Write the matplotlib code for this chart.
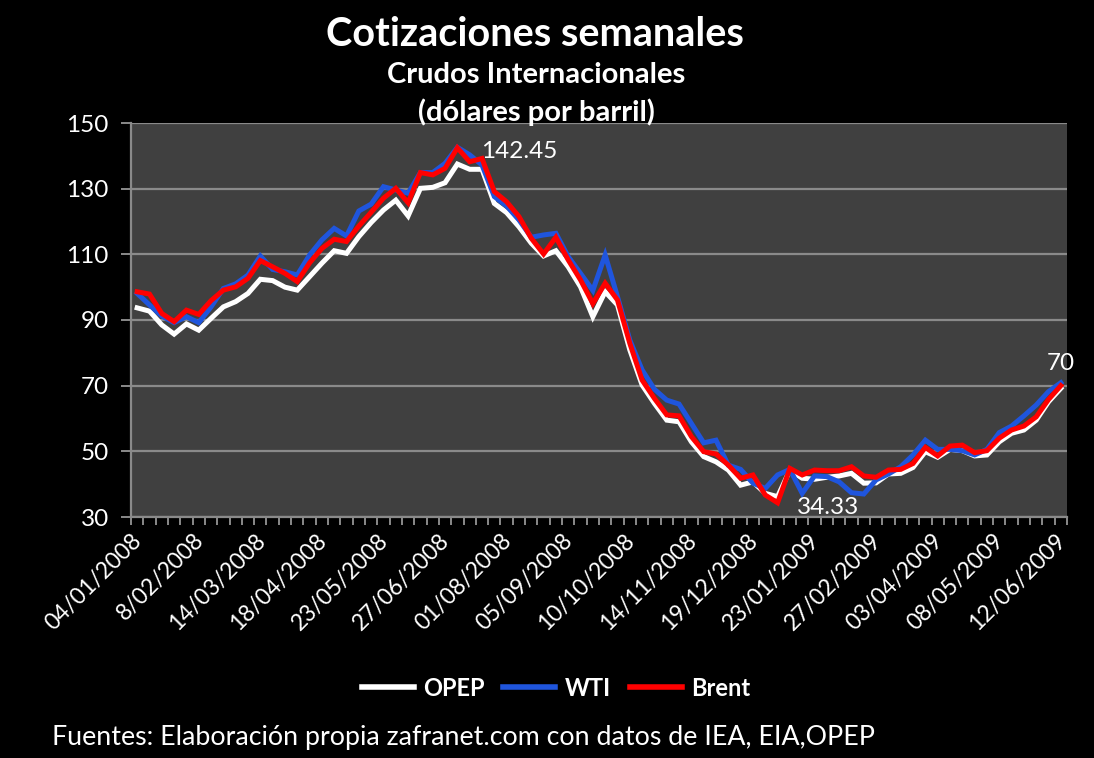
import matplotlib
matplotlib.use("Agg")
import matplotlib.pyplot as plt
from matplotlib.ticker import FixedLocator, NullFormatter
import matplotlib.transforms as mtransforms

plt.rcParams['font.family'] = ['Lato', 'DejaVu Sans']

week_labels = ["04/01/2008", "8/02/2008", "14/03/2008", "18/04/2008", "23/05/2008",
               "27/06/2008", "01/08/2008", "05/09/2008", "10/10/2008", "14/11/2008",
               "19/12/2008", "23/01/2009", "27/02/2009", "03/04/2009", "08/05/2009",
               "12/06/2009"]

opep = [93.7, 92.7, 88.5, 85.7, 88.8, 86.9, 90.5, 94.0, 95.6, 98.1,
        102.4, 102.0, 100.0, 99.1, 103.2, 107.3, 111.1, 110.3, 115.4, 119.7,
        123.5, 126.5, 121.7, 130.1, 130.4, 131.8, 137.5, 135.9, 135.9, 125.5,
        122.7, 118.4, 113.4, 109.5, 111.1, 106.2, 100.1, 91.0, 98.6, 94.6,
        80.9, 70.2, 64.6, 59.5, 59.0, 52.9, 48.4, 46.8, 44.3, 39.7,
        40.7, 37.2, 36.2, 44.3, 41.8, 41.5, 42.1, 42.5, 43.3, 40.3,
        40.4, 43.1, 43.3, 45.1, 49.9, 48.2, 50.6, 50.2, 48.6, 48.9,
        52.9, 55.5, 56.5, 59.5, 65.1, 69.2]

wti = [98.1, 94.6, 91.2, 89.2, 91.0, 89.2, 94.0, 99.6, 101.0, 103.7,
       109.5, 105.4, 104.7, 103.7, 109.8, 114.4, 117.9, 115.6, 123.2, 125.3,
       130.6, 129.6, 128.6, 134.9, 134.9, 137.7, 142.6, 140.3, 137.2, 127.6,
       124.7, 120.5, 115.2, 115.9, 116.4, 109.3, 104.2, 99.0, 109.8, 97.1,
       83.9, 74.8, 68.9, 65.6, 64.4, 58.5, 52.6, 53.4, 45.8, 44.5,
       40.3, 38.7, 42.8, 44.5, 37.2, 42.5, 42.3, 40.7, 37.4, 37.0,
       41.3, 43.1, 45.3, 48.9, 53.4, 50.6, 50.6, 50.2, 48.9, 50.6,
       55.7, 57.7, 60.8, 64.1, 68.2, 70.9]

brent = [98.6, 97.9, 92.0, 89.5, 93.0, 91.7, 95.9, 99.1, 100.1, 102.7,
         108.1, 106.2, 104.2, 101.7, 107.4, 111.8, 114.6, 113.9, 118.6, 122.8,
         127.1, 130.1, 125.7, 134.9, 134.2, 136.2, 142.45, 138.2, 139.2, 129.1,
         126.0, 121.5, 114.9, 110.1, 115.2, 108.3, 102.2, 95.0, 101.2, 96.1,
         82.9, 71.7, 66.1, 61.1, 60.8, 54.5, 49.9, 49.2, 45.8, 41.8,
         42.8, 36.7, 34.33, 44.8, 42.8, 44.3, 44.1, 44.1, 45.3, 42.5,
         42.1, 44.3, 44.5, 46.3, 51.2, 48.6, 51.6, 51.9, 49.6, 50.2,
         54.0, 56.5, 57.7, 60.5, 65.8, 70.0]

W, H = 1094, 758
fig = plt.figure(figsize=(W / 100, H / 100), dpi=100, facecolor='black')
ax = fig.add_axes([131 / W, 1 - 517 / H, (1067 - 131) / W, (517 - 123) / H])
ax.set_facecolor('#404040')

n = len(brent)
x = list(range(n))
ax.plot(x, opep, color='white', lw=3.6, label='OPEP', solid_joinstyle='miter', zorder=3)
ax.plot(x, wti, color='#1f55dd', lw=3.6, label='WTI', solid_joinstyle='miter', zorder=4)
ax.plot(x, brent, color='#ff0000', lw=3.6, label='Brent', solid_joinstyle='miter', zorder=5)

ax.set_xlim(-0.5, n - 0.5)
ax.set_ylim(30, 150)
ax.set_yticks(range(30, 151, 20))
ax.yaxis.grid(True, color='#8a8a8a', lw=1.6)
ax.set_axisbelow(True)

for s in ['top', 'right']:
    ax.spines[s].set_visible(False)
for s in ['left', 'bottom']:
    ax.spines[s].set_color('#8a8a8a')
    ax.spines[s].set_linewidth(1.6)

ax.tick_params(axis='y', colors='#8a8a8a', labelcolor='white', labelsize=17.5,
               length=7, width=1.4, pad=9)

label_pos = list(range(0, n, 5))
ax.set_xticks(label_pos)
ax.set_xticklabels(week_labels, rotation=45, ha='right', va='top',
                   rotation_mode='anchor', color='white', fontsize=16.5)
ax.tick_params(axis='x', which='major', length=0, pad=9)
offset = mtransforms.ScaledTranslation(-6 / 100, 0, fig.dpi_scale_trans)
for lab in ax.get_xticklabels():
    lab.set_transform(lab.get_transform() + offset)
ax.xaxis.set_minor_locator(FixedLocator([i - 0.5 for i in range(n + 1)]))
ax.xaxis.set_minor_formatter(NullFormatter())
ax.tick_params(axis='x', which='minor', length=6, width=1.4, colors='#8a8a8a', direction='out')

# data labels (baseline placed just beside the marked points)
ax.text(27.9, 139.3, "142.45", color='white', fontsize=17.5, ha='left', va='baseline', zorder=7)
ax.text(53.6, 30.9, "34.33", color='white', fontsize=17.5, ha='left', va='baseline', zorder=7)
ax.text(75, 74.8, "70", color='white', fontsize=17.5, ha='center', va='baseline', zorder=7)

# titles
fig.text(535 / W, 1 - 35 / H, "Cotizaciones semanales", color='white', fontsize=28.5,
         fontweight='bold', ha='center', va='center')
fig.text(536 / W, 1 - 75 / H, "Crudos Internacionales", color='white', fontsize=21,
         fontweight='bold', ha='center', va='center')
fig.text(536 / W, 1 - 112 / H, "(dólares por barril)", color='white', fontsize=21,
         fontweight='bold', ha='center', va='center')

leg = fig.legend(loc='center', bbox_to_anchor=(556 / W, 1 - 688 / H), ncol=3,
                 frameon=False, handlelength=2.2, handletextpad=0.4, columnspacing=0.8,
                 prop={'weight': 'bold', 'size': 17})
for t in leg.get_texts():
    t.set_color('white')
for l in leg.get_lines():
    l.set_linewidth(4)

fig.text(52 / W, 1 - 738 / H, "Fuentes: Elaboración propia zafranet.com con datos de IEA, EIA,OPEP",
         color='white', fontsize=19.3, ha='left', va='center')

fig.savefig('out.png', dpi=100, facecolor='black')
